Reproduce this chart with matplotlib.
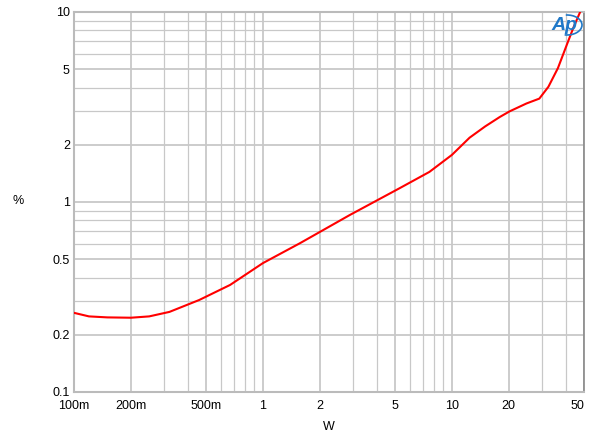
import numpy as np
import matplotlib.pyplot as plt
from matplotlib.patches import Arc

plt.rcParams['font.family'] = ['Liberation Sans', 'DejaVu Sans']

# THD+N vs output power
power = [0.1, 0.12, 0.15, 0.2, 0.25, 0.32, 0.46, 0.67, 1.0, 1.57, 2.88, 5.27,
         7.6, 10.0, 12.4, 15.0, 17.9, 20.2, 24.8, 29.0, 32.4, 36.4, 40.8, 44.0, 47.7, 50.0]
thd = [0.261, 0.25, 0.247, 0.246, 0.25, 0.264, 0.305, 0.366, 0.477, 0.607, 0.854, 1.18,
       1.44, 1.77, 2.18, 2.5, 2.8, 3.0, 3.3, 3.5, 4.04, 5.07, 6.83, 8.3, 10.0, 11.5]

xticks = [0.1, 0.2, 0.5, 1, 2, 5, 10, 20, 50]
xlabels = ['100m', '200m', '500m', '1', '2', '5', '10', '20', '50']
yticks = [0.1, 0.2, 0.5, 1, 2, 5, 10]
ylabels = ['0.1', '0.2', '0.5', '1', '2', '5', '10']

fig = plt.figure(figsize=(6, 4.41), dpi=100)
ax = fig.add_axes([74/600, 49/441, 510/600, 380/441])

ax.set_xscale('log')
ax.set_yscale('log')
ax.set_xlim(0.1, 50)
ax.set_ylim(0.1, 10)

ax.plot(power, thd, color='#ff0000', lw=1.5, zorder=3, clip_on=True)

ax.set_xticks(xticks)
ax.set_xticklabels(xlabels)
ax.set_yticks(yticks)
ax.set_yticklabels(ylabels)
ax.minorticks_on()
ax.tick_params(which='both', length=0, labelsize=9, colors='black')
ax.tick_params(axis='x', pad=6)
ax.tick_params(axis='y', pad=3)
ax.yaxis.set_minor_formatter(plt.NullFormatter())
ax.xaxis.set_minor_formatter(plt.NullFormatter())
ax.get_xticklabels()[-1].set_horizontalalignment('right')

ax.grid(True, which='major', color='#c8c8c8', lw=1.3)
ax.grid(True, which='minor', color='#c8c8c8', lw=0.9)

for s in ['left', 'bottom', 'top']:
    ax.spines[s].set_color('#bbbbbb')
    ax.spines[s].set_linewidth(1.5)
ax.spines['right'].set_color('#888888')
ax.spines['right'].set_linewidth(1.2)

ax.set_xlabel('W', fontsize=9, labelpad=6)
fig.text(18/600, 1 - 201/441, '%', fontsize=9, ha='center', va='center')

# Ap logo
fig.text(564/600, 1 - 25/441, 'Ap', fontsize=14, color='#1f78c8', style='italic',
         fontweight='bold', ha='center', va='center')
arc = Arc((567/600, 1 - 25/441), 30/600, 20/441, theta1=-100, theta2=95,
          transform=fig.transFigure, color='#1f78c8', lw=1.2)
fig.add_artist(arc)

fig.savefig('out.png', dpi=100)
